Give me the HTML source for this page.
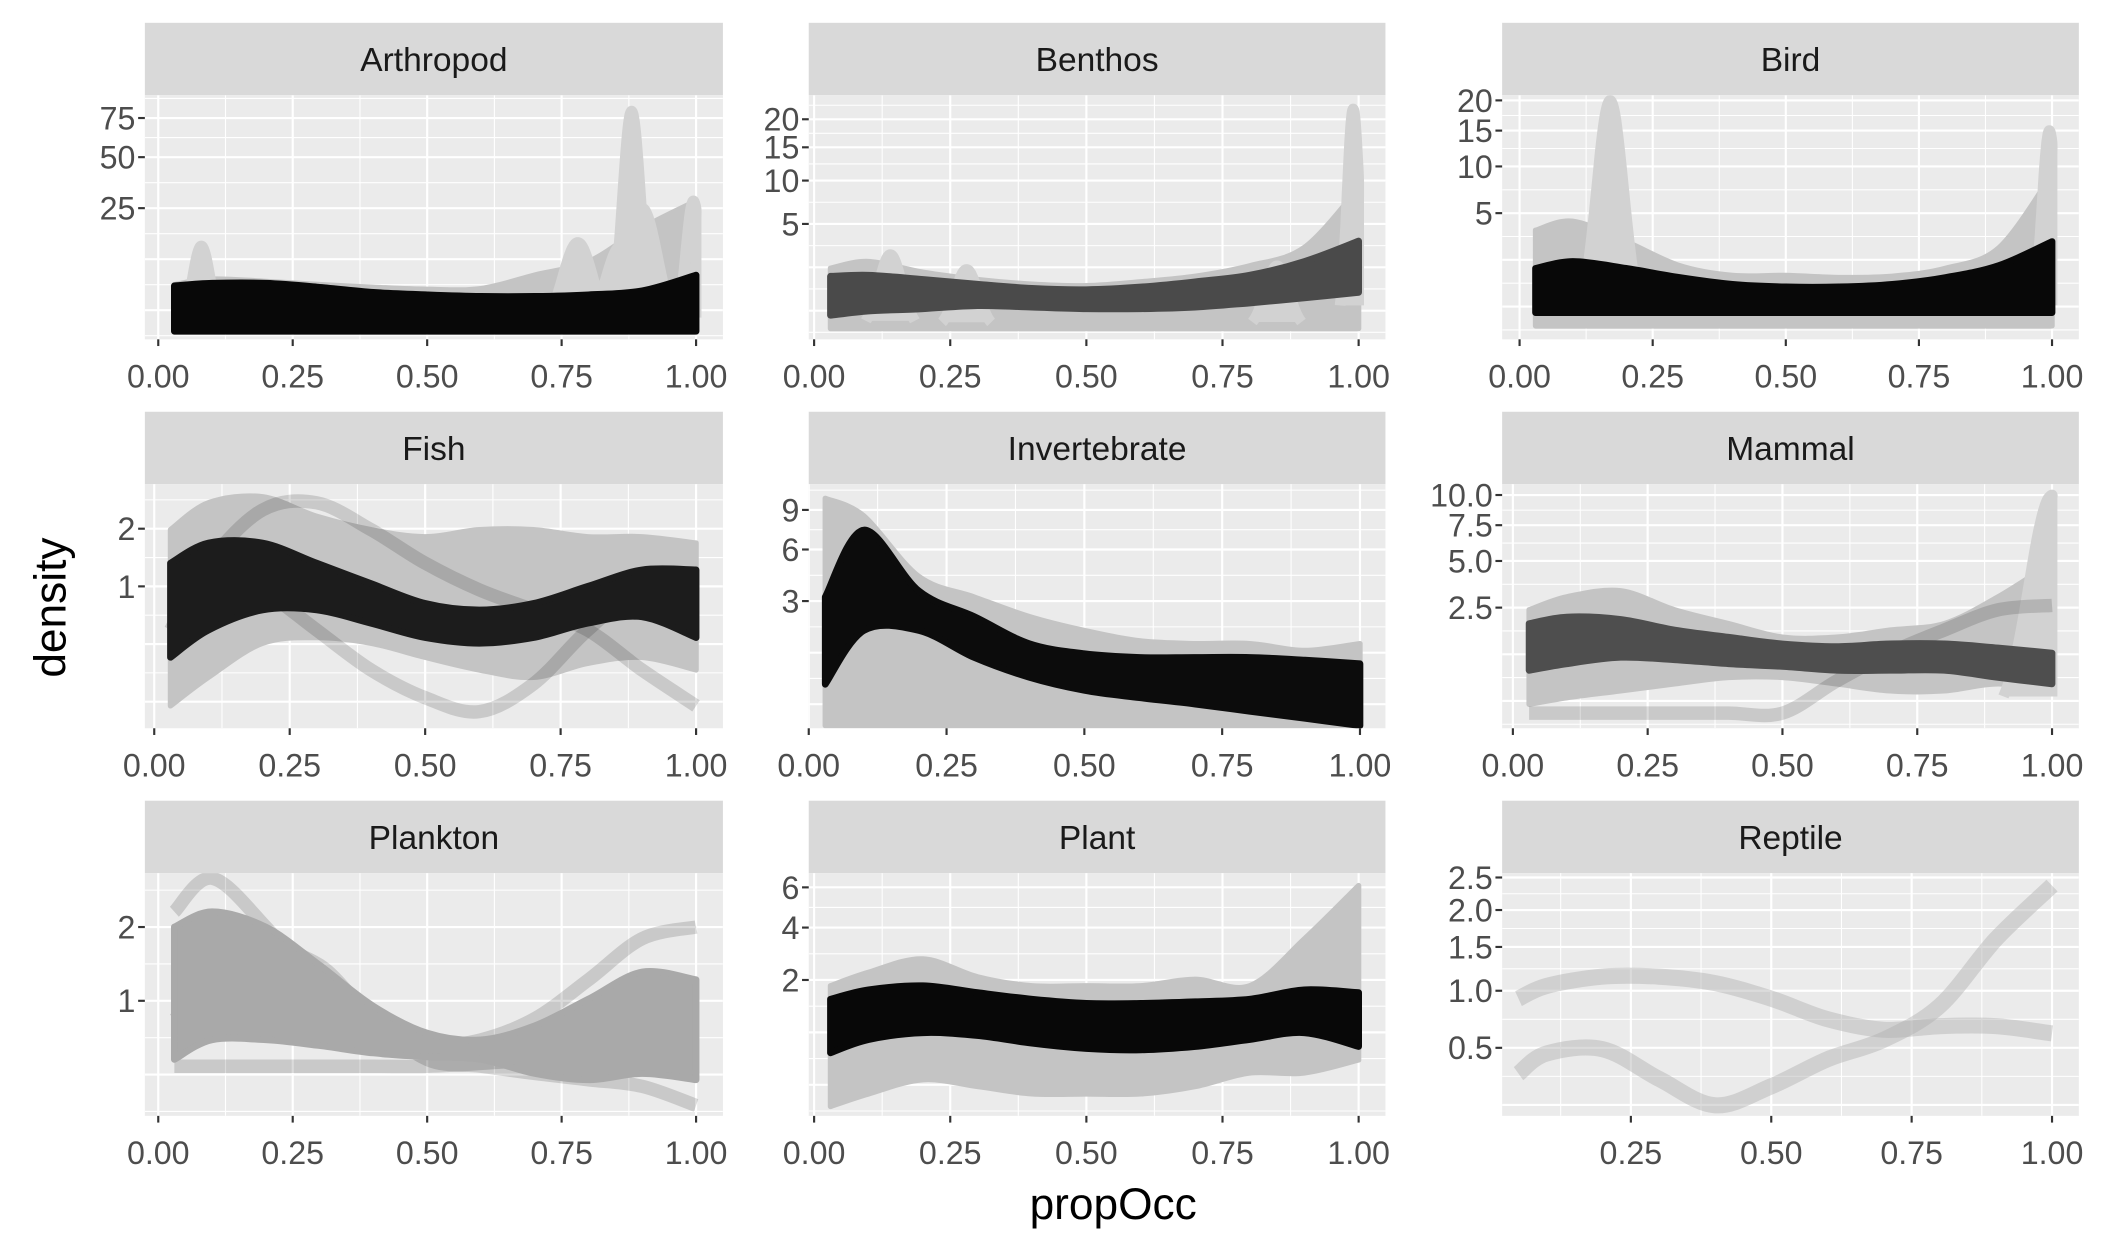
<!DOCTYPE html>
<html><head><meta charset="utf-8"><title>propOcc density by group</title>
<style>
html,body{margin:0;padding:0;background:#fff;}
svg{display:block;}
text{font-family:"Liberation Sans",Arial,sans-serif;}
</style></head>
<body>
<svg id="chart" width="2103" height="1250" viewBox="0 0 1568 932" xmlns="http://www.w3.org/2000/svg"></svg>
<script>
// ---------- data (density values on the sampled propOcc grid) ----------
const xGrid = [0.03,0.1,0.2,0.3,0.4,0.5,0.6,0.7,0.8,0.9,1.0];
const xGridReptile = [0.05,0.1,0.2,0.3,0.4,0.5,0.6,0.7,0.8,0.9,1.0];
const panelNames = ["Arthropod","Benthos","Bird","Fish","Invertebrate","Mammal","Plankton","Plant","Reptile"];

const arthropodYTicks = [25,50,75];
const arthropodBandHi = [3.4,3.8,3.8,3.2,2.5,2.2,2.0,2.0,2.2,2.7,5.2];
const arthropodBandLo = [0,0,0,0,0,0,0,0,0,0,0];
const arthropodHaloHi = [3.6,4.5,4.1,3.6,3.2,2.9,3.0,5.2,8.0,17.6,28];
const arthropodSpikes = [[0.08,12,0.012],[0.88,80,0.012],[0.78,13,0.02],[0.86,12,0.02],[0.9,25,0.02],[0.995,28,0.01]];

const benthosYTicks = [5,10,15,20];
const benthosBandHi = [1.25,1.3,1.1,0.9,0.74,0.69,0.79,1.0,1.3,2.05,3.5];
const benthosBandLo = [0.08,0.14,0.18,0.24,0.21,0.18,0.18,0.21,0.3,0.43,0.6];
const benthosHaloHi = [1.66,2.05,1.45,1.1,0.9,0.84,1.0,1.25,1.8,3.0,9];
const benthosSpikes = [[0.14,2.5,0.015],[0.28,1.6,0.015],[0.85,1.8,0.015],[0.99,22,0.008]];

const birdYTicks = [5,10,15,20];
const birdBandHi = [1.3,1.63,1.3,0.92,0.68,0.6,0.6,0.68,0.92,1.43,2.8];
const birdBandLo = [0.07,0.07,0.07,0.07,0.07,0.07,0.07,0.07,0.07,0.07,0.07];
const birdHaloHi = [3.6,4.3,2.8,1.43,1.0,1.0,0.92,0.97,1.3,2.4,9];
const birdSpikes = [[0.17,20,0.018],[0.995,15,0.01]];

const fishYTicks = [1,2];
const fishBandHi = [1.36,1.72,1.72,1.36,1.04,0.77,0.69,0.77,1.0,1.25,1.25];
const fishBandLo = [0.24,0.47,0.69,0.69,0.54,0.4,0.35,0.4,0.54,0.61,0.4];
const fishHaloHi = [1.98,2.56,2.7,2.26,1.98,1.84,1.98,1.98,1.84,1.84,1.72];
const fishHaloLo = [0.02,0.12,0.35,0.4,0.35,0.24,0.16,0.12,0.2,0.24,0.16];
const fishCurveA = [1.14,1.36,0.95,0.47,0.16,0.04,0.01,0.09,0.47,0.95,0.6];
const fishCurveB = [0.47,1.36,2.4,2.56,1.98,1.36,0.95,0.69,0.47,0.16,0.02];

const invertYTicks = [3,6,9];
const invertBandHi = [3.2,7.4,3.5,2.3,1.3,1.0,0.9,0.9,0.9,0.83,0.74];
const invertBandLo = [0.33,1.75,1.75,0.9,0.45,0.24,0.15,0.09,0.04,0.01,0];
const invertHaloHi = [10,8.5,4.3,3.2,2.3,1.75,1.39,1.3,1.3,1.09,1.3];

const mammalYTicks = [2.5,5.0,7.5,10.0];
const mammalBandHi = [1.84,2.1,2.0,1.6,1.36,1.15,1.07,1.15,1.15,1.03,0.89];
const mammalBandLo = [0.49,0.63,0.78,0.72,0.63,0.57,0.49,0.49,0.49,0.36,0.26];
const mammalHaloHi = [2.4,3.0,3.3,2.4,1.84,1.36,1.36,1.6,1.84,3.0,4.9];
const mammalHaloLo = [0.05,0.1,0.17,0.26,0.36,0.36,0.26,0.17,0.17,0.26,0.17];
const mammalCurveFlat = [0.01,0.01,0.01,0.01,0.01,0.01,0.3,0.9,1.6,2.4,2.6];
const mammalSpikes = [[1.0,10,0.03]];

const planktonYTicks = [1,2];
const planktonBandHi = [2.0,2.25,2.0,1.44,0.94,0.67,0.61,0.74,1.02,1.35,1.25];
const planktonBandLo = [0.45,0.61,0.61,0.56,0.5,0.47,0.45,0.35,0.31,0.35,0.31];
const planktonCurveA = [2.25,2.85,2.0,1.1,0.67,0.56,0.61,0.81,1.25,1.82,2.0];
const planktonCurveB = [0.8,1.17,1.62,1.44,0.8,0.45,0.4,0.35,0.31,0.27,0.17];
const planktonCurveC = [0.4,0.4,0.4,0.4,0.4,0.4,0.42,0.45,0.5,0.55,0.55];

const plantYTicks = [2,4,6];
const plantBandHi = [1.44,1.7,1.82,1.62,1.44,1.33,1.33,1.37,1.44,1.7,1.62];
const plantBandLo = [0.36,0.56,0.68,0.63,0.5,0.42,0.4,0.45,0.56,0.68,0.45];
const plantHaloHi = [1.82,2.25,2.72,2.1,1.82,1.82,1.82,2.02,1.82,3.5,6.1];
const plantHaloLo = [0,0.02,0.09,0.05,0.02,0.02,0.02,0.05,0.14,0.14,0.27];

const reptileYTicks = [0.5,1.0,1.5,2.0,2.5];
const reptileCurveA = [0.92,1.05,1.15,1.15,1.08,0.92,0.73,0.64,0.67,0.67,0.61];
const reptileCurveB = [0.33,0.46,0.49,0.3,0.17,0.26,0.42,0.56,0.85,1.6,2.37];

// ---------- layout ----------
const colX = [[108,539],[603,1033],[1120,1550]];
const rowY = [[17,71,253],[307,361,543],[597,651,832]];
const xPix = [[118,519],[607,1013],[1133,1530],[115,519],[603,1014],[1128,1530],[118,519],[607,1013],[1111.3,1530]];
const yZero = [247,245,243,541,541,537,879,825,884];
const ySlope = [18.36,34.9,37.6,103.8,53.6,53.1,132.8,66.7,145.3];
const bandColors = ["#080808","#4a4a4a","#080808","#1c1c1c","#0c0c0c","#4e4e4e","#a9a9a9","#080808",null];

const panels = [
 {ticks:arthropodYTicks, fmt:v=>String(v), xs:xGrid, haloHi:arthropodHaloHi, bandHi:arthropodBandHi, bandLo:arthropodBandLo, spikes:arthropodSpikes, curves:[]},
 {ticks:benthosYTicks, fmt:v=>String(v), xs:xGrid, haloHi:benthosHaloHi, bandHi:benthosBandHi, bandLo:benthosBandLo, spikes:benthosSpikes, curves:[]},
 {ticks:birdYTicks, fmt:v=>String(v), xs:xGrid, haloHi:birdHaloHi, bandHi:birdBandHi, bandLo:birdBandLo, spikes:birdSpikes, curves:[]},
 {ticks:fishYTicks, fmt:v=>String(v), xs:xGrid, haloHi:fishHaloHi, haloLo:fishHaloLo, bandHi:fishBandHi, bandLo:fishBandLo, spikes:[], curves:[fishCurveA,fishCurveB]},
 {ticks:invertYTicks, fmt:v=>String(v), xs:xGrid, haloHi:invertHaloHi, bandHi:invertBandHi, bandLo:invertBandLo, spikes:[], curves:[]},
 {ticks:mammalYTicks, fmt:v=>v.toFixed(1), xs:xGrid, haloHi:mammalHaloHi, haloLo:mammalHaloLo, bandHi:mammalBandHi, bandLo:mammalBandLo, spikes:mammalSpikes, curves:[mammalCurveFlat]},
 {ticks:planktonYTicks, fmt:v=>String(v), xs:xGrid, bandHi:planktonBandHi, bandLo:planktonBandLo, spikes:[], curves:[planktonCurveA,planktonCurveB,planktonCurveC]},
 {ticks:plantYTicks, fmt:v=>String(v), xs:xGrid, haloHi:plantHaloHi, haloLo:plantHaloLo, bandHi:plantBandHi, bandLo:plantBandLo, spikes:[], curves:[]},
 {ticks:reptileYTicks, fmt:v=>v.toFixed(1), xs:xGridReptile, spikes:[], curves:[reptileCurveA,reptileCurveB], reptile:true}
];

const NS = "http://www.w3.org/2000/svg";
const svg = document.getElementById("chart");
function mk(tag, attrs, parent){
  const e = document.createElementNS(NS, tag);
  for (const k in attrs) e.setAttribute(k, attrs[k]);
  (parent||svg).appendChild(e);
  return e;
}
function smooth(pts){
  let d = "M"+pts[0][0].toFixed(1)+","+pts[0][1].toFixed(1);
  for (let i=0;i<pts.length-1;i++){
    const p0=pts[i-1]||pts[i], p1=pts[i], p2=pts[i+1], p3=pts[i+2]||p2;
    const c1=[p1[0]+(p2[0]-p0[0])/6, p1[1]+(p2[1]-p0[1])/6];
    const c2=[p2[0]-(p3[0]-p1[0])/6, p2[1]-(p3[1]-p1[1])/6];
    d += "C"+c1[0].toFixed(1)+","+c1[1].toFixed(1)+" "+c2[0].toFixed(1)+","+c2[1].toFixed(1)+" "+p2[0].toFixed(1)+","+p2[1].toFixed(1);
  }
  return d;
}

panels.forEach((p, i) => {
  const col = i%3, row = Math.floor(i/3);
  const [L,R] = colX[col], [ST,PT,PB] = rowY[row];
  const xs = v => xPix[i][0] + v*(xPix[i][1]-xPix[i][0]);
  const ys = v => yZero[i] - ySlope[i]*Math.sqrt(Math.max(0,v));
  const g = mk("g", {});
  
  

  const strip = mk("rect", {x:L, y:ST, width:R-L, height:PT-ST, fill:"#D9D9D9"}, g);
  
  
  const st = mk("text", {x:(L+R)/2, y:(ST+PT)/2+9, "text-anchor":"middle", "font-size":"25", fill:"#1A1A1A"}, g);
  st.textContent = panelNames[i];
  
  

  const bg = mk("rect", {x:L, y:PT, width:R-L, height:PB-PT, fill:"#EBEBEB"}, g);
  
  
  const clipId = "clip"+i;
  const cp = mk("clipPath", {id:clipId}, g);
  mk("rect", {x:L, y:PT, width:R-L, height:PB-PT}, cp);

  const majors = p.ticks.map(ys).sort((a,b)=>a-b);
  const yMaj = majors.slice();
  if (majors.length>1){
    const lowStep = majors[majors.length-1]-majors[majors.length-2];
    let y = majors[majors.length-1]+lowStep; while (y < PB+lowStep) { yMaj.push(y); y += lowStep; }
    const topStep = majors[1]-majors[0];
    y = majors[0]-topStep; while (y > PT-topStep) { yMaj.unshift(y); y -= topStep; }
  }
  const yMin = [];
  for (let k=0;k<yMaj.length-1;k++) yMin.push((yMaj[k]+yMaj[k+1])/2);
  const gridG = mk("g", {"clip-path":"url(#"+clipId+")"}, g);
  
  
  yMin.forEach(y => mk("line", {x1:L, x2:R, y1:y, y2:y, stroke:"#fff", "stroke-width":0.8}, gridG));
  yMaj.forEach(y => mk("line", {x1:L, x2:R, y1:y, y2:y, stroke:"#fff", "stroke-width":1.6}, gridG));
  const xMaj = [0,0.25,0.5,0.75,1.0];
  [-0.125,0.125,0.375,0.625,0.875,1.125].forEach(v => mk("line", {x1:xs(v), x2:xs(v), y1:PT, y2:PB, stroke:"#fff", "stroke-width":0.8}, gridG));
  xMaj.forEach(v => mk("line", {x1:xs(v), x2:xs(v), y1:PT, y2:PB, stroke:"#fff", "stroke-width":1.6}, gridG));

  const mg = mk("g", {"clip-path":"url(#"+clipId+")"}, g);
  
  
  const area = (hi, lo, fill, sw, name) => {
    const top = p.xs.map((x,k)=>[xs(x), ys(hi[k])]);
    const bot = p.xs.map((x,k)=>[xs(x), ys(lo ? lo[k] : 0)]).reverse();
    const d = smooth(top) + "L" + smooth(bot).slice(1) + "Z";
    const e = mk("path", {d:d, fill:fill, stroke:fill, "stroke-width":sw, "stroke-linejoin":"round"}, mg);
    
    
  };
  if (p.haloHi) area(p.haloHi, p.haloLo, "#C4C4C4", 4, "density-envelope");
  p.spikes.forEach(s => {
    const [c,h,w] = s;
    const pts = [];
    for (let t=-3;t<=3;t+=0.25){ const v=h*Math.exp(-t*t/2); pts.push([xs(Math.min(1,c+t*w)), ys(v)]); }
    const e = mk("path", {d:smooth(pts), fill:"#D2D2D2", stroke:"#D2D2D2", "stroke-width":8}, mg);
    
    
  });
  p.curves.forEach(c => {
    const pts = p.xs.map((x,k)=>[xs(x), ys(c[k])]);
    const e = mk("path", {d:smooth(pts), fill:"none", stroke: p.reptile ? "rgba(175,175,175,0.45)" : "rgba(0,0,0,0.14)", "stroke-width": p.reptile ? 12 : 10, "stroke-linecap":"butt"}, mg);
    
    
  });
  if (p.bandHi) area(p.bandHi, p.bandLo, bandColors[i], 5, "density-core-band");

  p.ticks.forEach(v => {
    const y = ys(v);
    mk("line", {x1:L-5, x2:L, y1:y, y2:y, stroke:"#333", "stroke-width":1.6}, g);
    const t = mk("text", {x:L-7, y:y+8.5, "text-anchor":"end", "font-size":"24", fill:"#4D4D4D"}, g);
    t.textContent = p.fmt(v);
    
    
  });
  const xTickVals = p.reptile ? [0.25,0.5,0.75,1.0] : xMaj;
  xTickVals.forEach(v => {
    const x = xs(v);
    mk("line", {x1:x, x2:x, y1:PB, y2:PB+5, stroke:"#333", "stroke-width":1.6}, g);
    const t = mk("text", {x:x, y:PB+36, "text-anchor":"middle", "font-size":"24", fill:"#4D4D4D"}, g);
    t.textContent = v.toFixed(2);
    
    
  });
});

const xt = mk("text", {x:830, y:909, "text-anchor":"middle", "font-size":"33", fill:"#000"});
xt.textContent = "propOcc";


const yt = mk("text", {x:0, y:0, "text-anchor":"middle", "font-size":"33", fill:"#000", transform:"translate(49,453) rotate(-90)"});
yt.textContent = "density";


</script>
</body></html>
